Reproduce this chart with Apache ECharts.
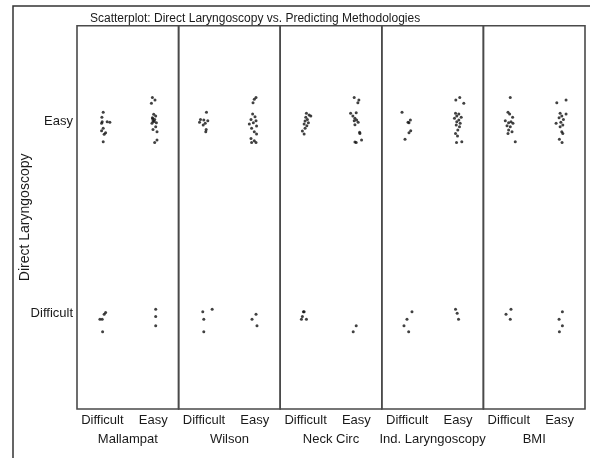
<!DOCTYPE html>
<html>
<head>
<meta charset="utf-8">
<script src="https://cdn.jsdelivr.net/npm/echarts@6/dist/echarts.min.js"></script>
<style>
  html, body { margin: 0; padding: 0; background: #fff; }
  #chart { width: 590px; height: 458px; }
</style>
</head>
<body>
<div id="chart"></div>
<script>
  // categories (0 = Difficult, 1 = Easy) on both axes
  let levelCats = ['Difficult', 'Easy'];
  let methodNames = ['Mallampat', 'Wilson', 'Neck Circ', 'Ind. Laryngoscopy', 'BMI'];
  let titleText = 'Scatterplot: Direct Laryngoscopy vs. Predicting Methodologies';
  let yTitle = 'Direct Laryngoscopy';

  // jittered points per method: [method value, direct laryngoscopy value]
  let mallampatPts = [
    [0.016, 1.048], [-0.01, 1.022], [-0.004, 0.999], [-0.016, 0.991], [0.094, 0.999], [0.147, 0.996],
    [0.016, 0.965], [-0.016, 0.952], [0.063, 0.942], [0.035, 0.933], [0.016, 0.895],
    [0.984, 1.126], [1.035, 1.112], [0.965, 1.095], [1.01, 1.038], [1.049, 1.029], [0.984, 1.02],
    [1.029, 1.011], [0.996, 1.003], [1.063, 0.994], [0.976, 0.991], [1.049, 0.973], [0.996, 0.959],
    [1.075, 0.947], [1.075, 0.903], [1.029, 0.891], [1.02, 1.0], [0.99, 1.015],
    [0.063, 0.003], [0.035, -0.006], [-0.049, -0.032], [-0.004, -0.032], [0.004, -0.097],
    [1.049, 0.02], [1.049, -0.018], [1.049, -0.065]
  ];
  let wilsonPts = [
    [0.049, 1.048], [-0.069, 1.011], [-0.004, 1.008], [0.075, 1.004], [-0.088, 0.996], [0.024, 0.991],
    [-0.016, 0.982], [0.043, 0.959], [0.035, 0.947],
    [1.024, 1.126], [0.99, 1.116], [0.965, 1.098], [0.957, 1.039], [1.004, 1.025], [0.925, 1.011],
    [1.024, 1.004], [0.971, 0.994], [0.892, 0.987], [1.035, 0.976], [0.937, 0.965], [0.99, 0.947],
    [1.035, 0.935], [0.925, 0.912], [0.99, 0.9], [0.937, 0.891], [1.024, 0.891],
    [-0.024, 0.008], [0.161, 0.02], [-0.004, -0.032], [-0.004, -0.097],
    [1.024, -0.006], [0.945, -0.032], [1.043, -0.065]
  ];
  let neckCircPts = [
    [0.016, 1.043], [0.069, 1.034], [0.102, 1.029], [0.004, 1.022], [0.035, 1.011], [-0.01, 1.003],
    [0.055, 0.994], [-0.029, 0.987], [0.024, 0.978], [-0.01, 0.965], [-0.063, 0.951], [-0.029, 0.935],
    [0.957, 1.126], [1.049, 1.112], [1.029, 1.098], [0.886, 1.043], [0.996, 1.046], [0.931, 1.029],
    [0.971, 1.017], [1.004, 1.008], [0.957, 1.004], [1.035, 0.996], [0.971, 0.983], [1.063, 0.944],
    [1.069, 0.938], [1.102, 0.903], [0.996, 0.891], [0.971, 0.893],
    [-0.043, 0.008], [-0.029, 0.008], [-0.063, -0.018], [-0.082, -0.032], [0.016, -0.032],
    [0.996, -0.065], [0.937, -0.097]
  ];
  let indLaryngPts = [
    [-0.102, 1.048], [0.063, 1.008], [0.016, 0.996], [0.035, 0.994], [0.069, 0.952], [0.035, 0.942],
    [-0.043, 0.907],
    [1.035, 1.126], [0.957, 1.112], [1.114, 1.095], [0.951, 1.043], [1.016, 1.039], [0.976, 1.029],
    [1.063, 1.022], [0.931, 1.017], [1.016, 1.008], [0.976, 0.999], [1.043, 0.991], [0.965, 0.982],
    [1.029, 0.973], [0.996, 0.956], [0.951, 0.938], [0.99, 0.924], [0.971, 0.891], [1.075, 0.895],
    [0.094, 0.008], [-0.004, -0.032], [-0.063, -0.065], [0.029, -0.097],
    [0.951, 0.02], [0.984, 0.0], [1.01, -0.032]
  ];
  let bmiPts = [
    [0.029, 1.126], [-0.016, 1.048], [0.016, 1.039], [0.075, 1.022], [-0.069, 1.004], [0.043, 0.999],
    [-0.004, 0.994], [0.082, 0.991], [-0.035, 0.978], [0.029, 0.973], [-0.004, 0.956], [0.063, 0.947],
    [-0.016, 0.938], [0.127, 0.895],
    [1.127, 1.112], [0.945, 1.098], [1.01, 1.043], [1.127, 1.039], [1.043, 1.029], [0.99, 1.02],
    [1.075, 1.011], [0.931, 0.991], [1.024, 0.996], [1.063, 0.982], [1.01, 0.973], [1.043, 0.947],
    [1.063, 0.938], [0.996, 0.907], [1.049, 0.891],
    [-0.055, -0.006], [0.043, 0.02], [0.029, -0.032],
    [1.055, 0.008], [0.99, -0.032], [1.055, -0.065], [0.996, -0.097]
  ];
  let panelPts = [mallampatPts, wilsonPts, neckCircPts, indLaryngPts, bmiPts];

  let textColor = '#1a1a1a';
  let fontFam = '"Liberation Sans", Arial, sans-serif';
  let panelLeft = 77, panelTop = 25.7, panelW = 101.6, panelH = 383.3;

  let grids = [], xAxes = [], yAxes = [], series = [];
  methodNames.forEach(function (name, i) {
    grids.push({
      left: panelLeft + i * panelW, top: panelTop, width: panelW, height: panelH,
      show: true, borderColor: '#4a4a4a', borderWidth: 1.6
    });
    // labelled category axis
    xAxes.push({
      gridIndex: i, type: 'category', data: levelCats,
      name: name, nameLocation: 'middle', nameGap: 24, nameMoveOverlap: false,
      nameTextStyle: { color: textColor, fontSize: 13, fontFamily: fontFam },
      axisLine: { show: false }, axisTick: { show: false }, splitLine: { show: false },
      axisLabel: { color: textColor, fontSize: 13, fontFamily: fontFam, margin: 5, interval: 0 }
    });
    // hidden value axis that carries the jittered points
    xAxes.push({ gridIndex: i, type: 'value', min: -0.5, max: 1.5, show: false });
    yAxes.push({
      gridIndex: i, type: 'category', data: levelCats, show: i === 0,
      name: i === 0 ? yTitle : '', nameLocation: 'middle', nameGap: 45, nameMoveOverlap: false,
      nameTextStyle: { color: textColor, fontSize: 14, fontFamily: fontFam },
      axisLine: { show: false }, axisTick: { show: false }, splitLine: { show: false },
      axisLabel: { color: textColor, fontSize: 13, fontFamily: fontFam, margin: 4 }
    });
    yAxes.push({ gridIndex: i, type: 'value', min: -0.5, max: 1.5, show: false });
    series.push({
      type: 'scatter', xAxisIndex: 2 * i + 1, yAxisIndex: 2 * i + 1,
      symbol: 'circle', symbolSize: 3,
      itemStyle: { color: '#111' },
      data: panelPts[i]
    });
  });

  let option = {
    animation: false,
    title: {
      text: titleText, left: 85, top: 8,
      textStyle: { color: textColor, fontSize: 12, fontWeight: 'normal', fontFamily: fontFam }
    },
    graphic: [{
      type: 'rect', shape: { x: 13, y: 6, width: 620, height: 500 },
      style: { fill: 'none', stroke: '#333', lineWidth: 1.5 }, silent: true
    }],
    grid: grids,
    xAxis: xAxes,
    yAxis: yAxes,
    series: series
  };
  let myChart = echarts.init(document.getElementById('chart'));
  myChart.setOption(option);
</script>
</body>
</html>
